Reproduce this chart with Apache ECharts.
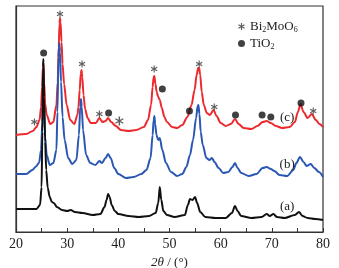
<!DOCTYPE html>
<html>
<head>
<meta charset="utf-8">
<script src="https://cdn.jsdelivr.net/npm/echarts@6/dist/echarts.min.js"></script>
<style>
  html, body { margin: 0; padding: 0; background: #fff; }
  #chart { width: 339px; height: 268px; }
</style>
</head>
<body>
<div id="chart"></div>
<script>
// XRD patterns, [2theta, intensity (a.u., stacked offsets)]
const patternA = [
  [20, 23], [22, 23], [24, 23], [24.7, 27], [25.0, 45], [25.15, 100], [25.28, 165], [25.36, 173],
  [25.5, 135], [25.7, 90], [25.9, 62], [26.2, 44], [26.6, 35], [27.0, 30], [27.4, 29], [28, 25],
  [29, 22], [30, 21], [30.7, 22], [31.5, 20], [33, 19], [35, 17], [36.5, 18], [37.3, 25],
  [37.7, 32], [38.0, 38], [38.3, 35], [38.7, 27], [39.3, 21], [40, 18], [42, 16], [44, 15],
  [46, 16], [47.3, 19], [47.8, 29], [48.1, 45], [48.4, 32], [48.8, 21], [49.5, 17], [51, 15],
  [53, 17], [53.6, 27], [54.0, 33], [54.5, 32], [55.0, 35], [55.4, 29], [56.0, 20], [57, 15],
  [59, 14], [61, 14], [62.2, 19], [62.8, 26], [63.3, 21], [64, 16], [66, 14], [68, 15],
  [69.0, 18], [69.6, 16], [70.3, 18], [71, 15], [72.5, 14], [74.5, 17], [75.3, 20], [76, 16],
  [77, 14], [78.5, 13], [80, 12]
];
const patternB = [
  [20, 58], [22, 58], [23.2, 62], [23.8, 65], [24.5, 69], [24.9, 82], [25.15, 110], [25.3, 137],
  [25.45, 125], [25.7, 95], [26.0, 77], [26.6, 67], [27.3, 69], [27.9, 82], [28.1, 120], [28.3, 175],
  [28.45, 189], [28.6, 180], [28.8, 150], [29.1, 115], [29.5, 92], [30.2, 74], [31, 68], [31.8, 72],
  [32.3, 97], [32.55, 125], [32.7, 133], [32.85, 125], [33.1, 102], [33.7, 77], [34.5, 69], [35.5, 67],
  [36.3, 71], [36.8, 69], [37.5, 74], [38.0, 78], [38.5, 74], [39.2, 64], [40, 58], [41.5, 54],
  [43, 55], [44.5, 58], [45.5, 62], [46.3, 74], [46.7, 97], [46.9, 112], [47.05, 116], [47.2, 108],
  [47.45, 97], [47.8, 92], [48.1, 94], [48.6, 82], [49.3, 69], [50.3, 60], [51.5, 56], [52.5, 58],
  [53.3, 65], [54.0, 77], [54.6, 92], [55.2, 114], [55.5, 126], [55.65, 127], [55.85, 118], [56.1, 100],
  [56.5, 87], [57.2, 74], [57.8, 72], [58.3, 74], [58.8, 70], [59.6, 64], [60.5, 59], [61.5, 60],
  [62.3, 65], [62.8, 69], [63.3, 64], [64, 59], [65.5, 56], [67, 58], [68.2, 64], [69, 65],
  [69.8, 63], [70.5, 61], [71.5, 57], [73, 56], [74.2, 62], [74.8, 69], [75.5, 75], [76.2, 70],
  [76.8, 66], [77.6, 68], [78.3, 64], [79.2, 60], [80, 55]
];
const patternC = [
  [20, 97], [22, 98], [23.3, 101], [24.0, 105], [24.6, 112], [24.9, 125], [25.1, 145], [25.25, 165],
  [25.35, 169], [25.5, 150], [25.7, 128], [26.0, 117], [26.7, 108], [27.3, 110], [27.9, 127], [28.15, 150],
  [28.35, 185], [28.5, 208], [28.6, 214], [28.7, 210], [28.9, 190], [29.1, 168], [29.4, 148], [29.9, 127],
  [30.6, 112], [31.4, 108], [32.0, 117], [32.2, 125], [32.45, 142], [32.65, 158], [32.8, 162], [32.95, 155],
  [33.2, 137], [33.5, 123], [34.0, 114], [34.6, 109], [35.6, 109], [36.3, 114], [36.9, 110], [37.5, 111],
  [38.0, 114], [38.6, 110], [39.5, 106], [40.5, 102], [42, 101], [43.5, 102], [45, 105], [45.8, 112],
  [46.4, 127], [46.7, 145], [46.9, 155], [47.05, 156], [47.25, 148], [47.5, 140], [47.8, 135], [48.1, 132],
  [48.5, 124], [49.0, 115], [49.5, 110], [50.5, 105], [51.5, 104], [52.5, 107], [53.5, 115], [54.3, 127],
  [54.9, 142], [55.3, 157], [55.6, 164], [55.8, 164], [56.0, 157], [56.3, 140], [56.7, 127], [57.3, 119],
  [57.9, 117], [58.6, 122], [59.2, 116], [60, 109], [61, 106], [62, 108], [62.8, 113], [63.5, 108],
  [64.5, 104], [66, 103], [67.2, 106], [68.2, 110], [69, 111], [69.8, 109], [70.8, 106], [72, 104],
  [73.5, 105], [74.5, 110], [75.1, 120], [75.6, 128], [76.2, 120], [77.0, 114], [77.8, 118], [78.6, 112],
  [79.3, 108], [80, 105]
];

// phase markers above the peaks of (c)
const bmoPeaks = [[23.6, 110], [28.6, 218], [32.9, 168], [36.3, 118], [47.0, 163], [55.8, 168], [58.75, 125], [78.1, 121]];
const bmoBold = [[40.2, 111]];
const tioPeaks = [[25.4, 179], [38.1, 119], [48.6, 143], [53.9, 121], [62.9, 117], [68.1, 117], [69.8, 115], [75.7, 129]];

const curveLabels = ['(a)', '(b)', '(c)'];
const labelPos = [[73.0, 25], [73.0, 67], [73.0, 114]];
const xTicks = [20, 30, 40, 50, 60, 70, 80];

const starPath = 'path://M-0.8,-5L0.8,-5L0.8,5L-0.8,5Z' +
  'M-3.93,-3.19L4.73,1.81L3.93,3.19L-4.73,-1.81Z' +
  'M4.73,-1.81L-3.93,3.19L-4.73,1.81L3.93,-3.19Z';

const serif = '"Liberation Serif", "DejaVu Serif", serif';
const colors = { a: '#111111', b: '#2a57b3', c: '#ec2a2e' };

const chart = echarts.init(document.getElementById('chart'));

const lineSeries = (name, data, color, idx) => ({
  name: name,
  type: 'line',
  data: data,
  showSymbol: false,
  smooth: 0.3,
  smoothMonotone: 'x',
  lineStyle: { color: color, width: 2 },
  z: 2 + idx,
  markPoint: {
    symbol: 'circle',
    symbolSize: 0,
    data: [{ coord: labelPos[idx], value: curveLabels[idx] }],
    label: { show: true, formatter: curveLabels[idx], color: '#222', fontFamily: serif, fontSize: 13 }
  }
});

const option = {
  backgroundColor: '#fff',
  animation: false,
  grid: {
    left: 16, right: 16, top: 6, bottom: 36,
    outerBoundsMode: 'none',
    containLabel: false,
    show: true, borderColor: '#333', borderWidth: 1.2
  },
  legend: {
    orient: 'vertical',
    left: 233,
    top: 15,
    itemGap: 3,
    itemWidth: 7,
    itemHeight: 7,
    data: [
      { name: 'Bi2MoO6', icon: starPath },
      { name: 'TiO2', icon: 'circle' }
    ],
    formatter: (n) => n === 'Bi2MoO6' ? '{n|Bi}{s|2}{n|MoO}{s|6}' : '{n|TiO}{s|2}',
    textStyle: {
      rich: {
        n: { fontFamily: serif, fontSize: 13, color: '#222' },
        s: { fontFamily: serif, fontSize: 8, color: '#222', padding: [7, 0, 0, 0] }
      }
    }
  },
  xAxis: {
    type: 'value',
    min: 20,
    max: 80,
    interval: 10,
    axisLine: { show: true, lineStyle: { color: '#333', width: 1.2 } },
    axisTick: { show: true, inside: true, length: 4, lineStyle: { color: '#333' } },
    minorTick: { show: true, splitNumber: 2, length: 4, lineStyle: { color: '#333' } },
    splitLine: { show: false },
    axisLabel: {
      color: '#222', fontFamily: serif, fontSize: 14, margin: 5,
      formatter: (v) => xTicks.includes(v) ? String(v) : ''
    },
    name: '{i|2θ} / (°)',
    nameLocation: 'middle',
    nameGap: 24,
    nameTextStyle: {
      color: '#222', fontFamily: serif, fontSize: 13,
      rich: { i: { fontFamily: serif, fontSize: 13, fontStyle: 'italic', color: '#222' } }
    }
  },
  yAxis: {
    type: 'value',
    min: 0,
    max: 226,
    axisLine: { show: true, lineStyle: { color: '#333', width: 1.2 } },
    axisTick: { show: false },
    axisLabel: { show: false },
    splitLine: { show: false }
  },
  series: [
    lineSeries('a', patternA, colors.a, 2),
    lineSeries('b', patternB, colors.b, 1),
    lineSeries('c', patternC, colors.c, 0),
    {
      name: 'Bi2MoO6',
      type: 'scatter',
      data: bmoPeaks,
      symbol: starPath,
      symbolKeepAspect: true,
      symbolSize: 7,
      itemStyle: { color: '#333' },
      z: 10
    },
    {
      name: 'Bi2MoO6 bold',
      type: 'scatter',
      data: bmoBold,
      symbol: starPath,
      symbolKeepAspect: true,
      symbolSize: 9,
      itemStyle: { color: '#333' },
      z: 10
    },
    {
      name: 'TiO2',
      type: 'scatter',
      data: tioPeaks,
      symbol: 'circle',
      symbolSize: 7,
      itemStyle: { color: '#111' },
      z: 10
    }
  ]
};

chart.setOption(option);
</script>
</body>
</html>
